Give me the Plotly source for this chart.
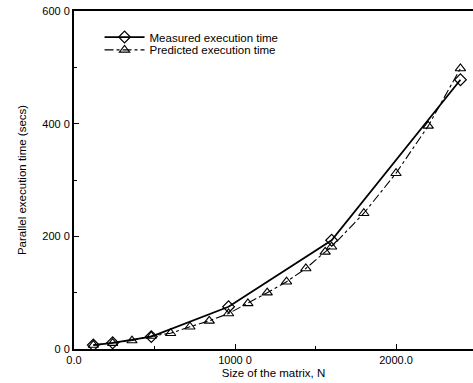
import plotly.graph_objects as go

measured_n = [120, 240, 480, 960, 1600, 2400]
measured_t = [7, 11, 22, 75, 193, 478]

predicted_n = [120, 240, 360, 480, 600, 720, 840, 960, 1080, 1200, 1320, 1440, 1560, 1600, 1800, 2000, 2200, 2400]
predicted_t = [7, 10.5, 15, 23, 28, 39.5, 50, 63, 81, 100, 119.5, 143, 172.5, 181.5, 241, 312, 396, 498]

x_tickvals = [0, 1000, 2000]
x_ticktext = ["0.0", "1000 0", "2000.0"]
y_tickvals = [0, 200, 400, 600]
y_ticktext = ["0 0", "200 0", "400 0", "600 0"]

font = "Liberation Sans, Arial, sans-serif"

fig = go.Figure()
fig.add_trace(go.Scatter(
    x=measured_n, y=measured_t, mode="lines+markers",
    name="Measured execution time", legend="legend",
    line=dict(color="black", width=1.8),
    marker=dict(symbol="diamond-open", size=9, color="black", line=dict(width=1.2)),
))
fig.add_trace(go.Scatter(
    x=predicted_n, y=predicted_t, mode="lines+markers",
    name="Predicted execution time", legend="legend2",
    line=dict(color="black", width=1.1, dash="dashdot"),
    marker=dict(symbol="triangle-up-open", size=9, color="black", line=dict(width=1.1)),
))

leg_common = dict(xanchor="left", yanchor="middle", bgcolor="rgba(0,0,0,0)",
                  font=dict(size=11.5), itemwidth=40, borderwidth=0)

fig.update_layout(
    width=473, height=383,
    margin=dict(l=74, r=0, t=11, b=34, autoexpand=False),
    paper_bgcolor="white", plot_bgcolor="white",
    font=dict(family=font, size=11, color="black"),
    showlegend=True,
    legend=dict(x=0.064, y=0.923, **leg_common),
    legend2=dict(x=0.064, y=0.885, **leg_common),
)
fig.update_xaxes(
    range=[0, 2478], tickvals=x_tickvals, ticktext=x_ticktext,
    ticks="inside", ticklen=5, tickcolor="black",
    minor=dict(tickvals=[500, 1500], ticks="inside", ticklen=3, tickcolor="black"),
    showline=True, linecolor="black", linewidth=2, mirror=True,
    showgrid=False, zeroline=False,
    title=dict(text="Size of the matrix, N", font=dict(size=11.5), standoff=4),
    tickfont=dict(size=11),
)
fig.update_yaxes(
    range=[0, 600], tickvals=y_tickvals, ticktext=y_ticktext,
    ticks="inside", ticklen=5, tickcolor="black",
    minor=dict(tickvals=[100, 300, 500], ticks="inside", ticklen=3, tickcolor="black"),
    showline=True, linecolor="black", linewidth=2, mirror=False,
    showgrid=False, zeroline=False,
    title=dict(text="Parallel execution time (secs)", font=dict(size=11.5), standoff=13),
    tickfont=dict(size=11),
)

fig.write_html("out.html",
               config={"displayModeBar": False},
               post_script="document.body.style.margin='0';document.body.style.overflow='hidden';")
